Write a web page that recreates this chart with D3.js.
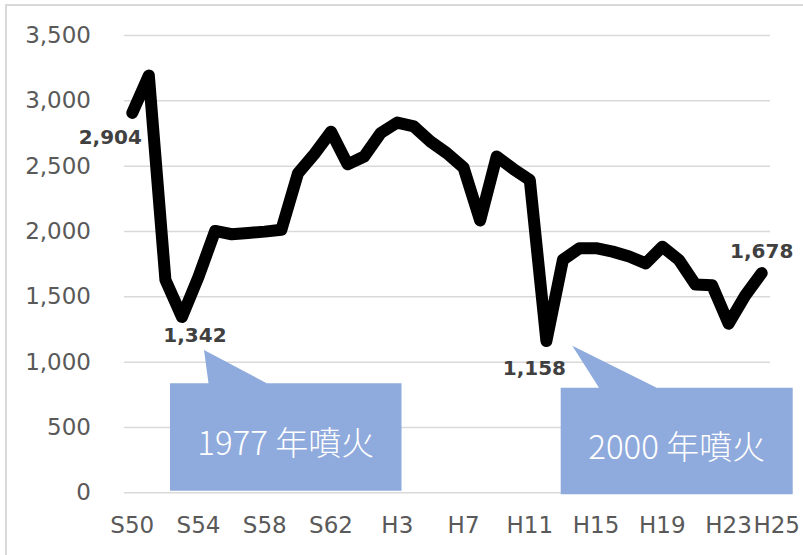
<!DOCTYPE html>
<html>
<head>
<meta charset="utf-8">
<script src="https://cdn.jsdelivr.net/npm/d3@7"></script>
<style>
  html, body { margin: 0; padding: 0; background: #ffffff; }
  svg { display: block; }
</style>
</head>
<body>
<svg id="chart" width="803" height="555"></svg>
<script>
// ---- data ----
const categories = [
  "S50","S51","S52","S53","S54","S55","S56","S57","S58","S59","S60","S61","S62","S63",
  "H1","H2","H3","H4","H5","H6","H7","H8","H9","H10","H11","H12","H13","H14","H15",
  "H16","H17","H18","H19","H20","H21","H22","H23","H24","H25"
];
const values = [
  2904, 3190, 1626, 1342, 1650, 2000, 1975, 1985, 1995, 2010, 2440, 2590, 2760, 2510,
  2570, 2750, 2830, 2800, 2685, 2595, 2485, 2080, 2570, 2475, 2390, 1158, 1780, 1868, 1868,
  1842, 1805, 1752, 1880, 1779, 1590, 1585, 1290, 1505, 1678
];
const xTickLabels = ["S50","S54","S58","S62","H3","H7","H11","H15","H19","H23","H25"];
const yTicks = [0, 500, 1000, 1500, 2000, 2500, 3000, 3500];
const labeledPoints = ["S50","S53","H12","H25"];
const calloutTexts = ["1977 年噴火", "2000 年噴火"];

// ---- layout ----
const plot = { left: 124, right: 770, top: 35, bottom: 492.3 };
const svg = d3.select("#chart");

svg.append("rect").attr("x", 0).attr("y", 0).attr("width", 803).attr("height", 555).attr("fill", "#fff");
svg.append("rect").attr("x", 6).attr("y", 5).attr("width", 820).attr("height", 580)
  .attr("fill", "none").attr("stroke", "#D9D9D9").attr("stroke-width", 2);

const x = d3.scaleBand().domain(categories).range([plot.left, plot.right]).paddingInner(0).paddingOuter(0);
const cx = c => x(c) + x.bandwidth() / 2;
const y = d3.scaleLinear().domain([0, 3500]).range([plot.bottom, plot.top]);

// gridlines + y labels
const yAxis = d3.axisLeft(y).tickValues(yTicks).tickFormat(d3.format(","))
  .tickSize(-(plot.right - plot.left)).tickPadding(33);
const gy = svg.append("g").attr("transform", `translate(${plot.left},0)`).call(yAxis);
gy.select(".domain").remove();
gy.selectAll(".tick line").attr("stroke", "#D9D9D9").attr("stroke-width", 1.5);
gy.selectAll(".tick text").attr("fill", "#595959")
  .style("font-family", "'DejaVu Sans', Verdana, sans-serif").style("font-size", "23px");

// x labels
const xAxis = d3.axisBottom(x).tickValues(xTickLabels).tickSize(0).tickPadding(0);
const gx = svg.append("g").attr("transform", `translate(0,${plot.bottom})`).call(xAxis);
gx.select(".domain").remove();
gx.selectAll(".tick text").attr("fill", "#595959")
  .attr("dy", null).attr("y", 33).attr("dominant-baseline", "central")
  .style("font-family", "'DejaVu Sans', Verdana, sans-serif").style("font-size", "23px")
  .attr("dx", d => d === "H25" ? 15 : 0);

// callouts (annotation layout)
const callouts = [
  { rect: [170, 383.3, 401.5, 490.7], tip: [204, 350], base: [208.5, 266.7], text: calloutTexts[0] },
  { rect: [560.7, 387.7, 792.7, 494.3], tip: [572.3, 345.7], base: [599, 656.7], text: calloutTexts[1] }
];
callouts.forEach(c => {
  const [x0, y0, x1, y1] = c.rect;
  const p = d3.path();
  p.moveTo(x0, y0);
  p.lineTo(c.base[0], y0);
  p.lineTo(c.tip[0], c.tip[1]);
  p.lineTo(c.base[1], y0);
  p.lineTo(x1, y0);
  p.lineTo(x1, y1);
  p.lineTo(x0, y1);
  p.closePath();
  svg.append("path").attr("d", p.toString()).attr("fill", "#8FAADC");
  svg.append("text").attr("x", (x0 + x1) / 2).attr("y", (y0 + y1) / 2 + 4)
    .attr("text-anchor", "middle").attr("dominant-baseline", "central")
    .attr("fill", "#ffffff")
    .style("font-family", "'Noto Sans CJK JP', sans-serif").style("font-size", "33px").style("font-weight", 300)
    .text(c.text);
});

// line
const line = d3.line().x((d, i) => cx(categories[i])).y(d => y(d));
svg.append("path").datum(values).attr("d", line)
  .attr("fill", "none").attr("stroke", "#000").attr("stroke-width", 12)
  .attr("stroke-linejoin", "round").attr("stroke-linecap", "round");

// data labels
const labelOffsets = { "S50": [-22, 24], "S53": [13, 18], "H12": [-12, 27], "H25": [0, -22] };
labeledPoints.forEach(c => {
  const i = categories.indexOf(c);
  const o = labelOffsets[c];
  svg.append("text").attr("x", cx(c) + o[0]).attr("y", y(values[i]) + o[1])
    .attr("text-anchor", "middle").attr("dominant-baseline", "central")
    .attr("fill", "#404040")
    .style("font-family", "'DejaVu Sans', Verdana, sans-serif").style("font-size", "20px").style("font-weight", "bold")
    .text(d3.format(",")(values[i]));
});
</script>
</body>
</html>
